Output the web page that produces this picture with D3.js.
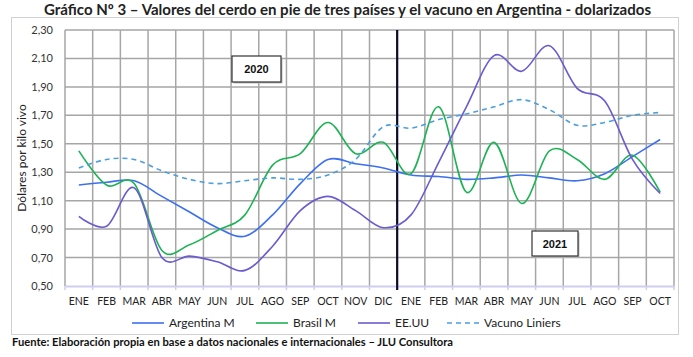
<!DOCTYPE html>
<html><head><meta charset="utf-8">
<script src="https://cdn.jsdelivr.net/npm/d3@7"></script>
<style>body{margin:0;background:#fff}svg{display:block}text{font-family:Lato,"Open Sans",sans-serif}</style>
</head><body><svg id="c" width="693" height="357"></svg>
<script>
const months = ["ENE","FEB","MAR","ABR","MAY","JUN","JUL","AGO","SEP","OCT","NOV","DIC","ENE","FEB","MAR","ABR","MAY","JUN","JUL","AGO","SEP","OCT"];
const argentina = [1.21,1.23,1.24,1.13,1.02,0.91,0.85,1.00,1.22,1.39,1.36,1.33,1.28,1.27,1.25,1.26,1.28,1.26,1.24,1.29,1.41,1.53];
const brasil = [1.45,1.21,1.22,0.75,0.79,0.89,1.00,1.35,1.43,1.65,1.43,1.51,1.29,1.76,1.16,1.51,1.08,1.45,1.39,1.25,1.42,1.16];
const eeuu = [0.99,0.92,1.19,0.70,0.71,0.67,0.61,0.78,1.03,1.13,1.03,0.91,1.00,1.37,1.76,2.12,2.01,2.19,1.89,1.80,1.39,1.15];
const vacuno = [1.33,1.39,1.39,1.31,1.25,1.22,1.24,1.26,1.25,1.28,1.39,1.62,1.61,1.67,1.71,1.76,1.81,1.74,1.63,1.65,1.70,1.72];
const yTicks = [0.5,0.7,0.9,1.1,1.3,1.5,1.7,1.9,2.1,2.3];
const seriesNames = ["Argentina M","Brasil M","EE.UU","Vacuno Liniers"];
const yearLabels = ["2020","2021"];
const title = "Gráfico Nº 3 – Valores del cerdo en pie de tres países y el vacuno en Argentina - dolarizados";
const yTitle = "Dólares por kilo vivo";
const source = "Fuente: Elaboración propia en base a datos nacionales e internacionales – JLU Consultora";

const svg = d3.select("#c");
const L = 65, R = 674, T = 30, B = 286;
const idx = d3.range(months.length);
const x = d3.scaleBand().domain(idx).range([L, R]).padding(0);
const y = d3.scaleLinear().domain([0.5, 2.3]).range([B, T]);
const fmt = v => d3.format(".2f")(v).replace(".", ",");

svg.append("rect").attr("x",0).attr("y",0).attr("width",693).attr("height",357).attr("fill","#fff");
// outer frame
svg.append("rect").attr("x",11.5).attr("y",17.5).attr("width",667).attr("height",317).attr("fill","none").attr("stroke","#d0d0d0").attr("stroke-width",1);

// title
svg.append("text").attr("x",44).attr("y",14.5).attr("font-size",14.4).attr("font-weight","bold").attr("fill","#222")
  .attr("textLength",607).attr("lengthAdjust","spacingAndGlyphs").text(title);

// grid
const g = svg.append("g");
g.selectAll(".hg").data(yTicks.slice(1)).join("line").attr("x1",L).attr("x2",R)
  .attr("y1",d=>y(d)).attr("y2",d=>y(d)).attr("stroke","#a6a6a6").attr("stroke-width",1.5);
const edges = idx.map(i=>x(i)).concat([R]);
g.selectAll(".vg").data(edges).join("line").attr("x1",d=>d).attr("x2",d=>d)
  .attr("y1",T).attr("y2",B).attr("stroke","#a6a6a6").attr("stroke-width",1.5);

// y axis labels
const ya = svg.append("g").attr("transform",`translate(${L},0)`)
  .call(d3.axisLeft(y).tickValues(yTicks).tickFormat(fmt).tickSize(0).tickPadding(12));
ya.select(".domain").remove();
ya.selectAll("text").attr("font-size",11).attr("fill","#333").style("font-family","Lato,'Open Sans',sans-serif");

// x axis
const xa = svg.append("g").attr("transform",`translate(0,${B})`)
  .call(d3.axisBottom(x).tickFormat(i=>months[i]).tickSize(0).tickPadding(12));
xa.select(".domain").attr("stroke","#cfcdf0").attr("stroke-width",2);
xa.selectAll("text").attr("font-size",10.5).attr("fill","#222").style("font-family","Lato,'Open Sans',sans-serif");
svg.append("g").selectAll("line").data(edges).join("line").attr("x1",d=>d).attr("x2",d=>d)
  .attr("y1",B).attr("y2",B+4).attr("stroke","#cfcdf0").attr("stroke-width",1.5);

// y title
svg.append("text").attr("transform",`translate(26,${(T+B)/2}) rotate(-90)`).attr("text-anchor","middle")
  .attr("font-size",12).attr("fill","#222").text(yTitle);

// year separator
svg.append("line").attr("x1",x(12)).attr("x2",x(12)).attr("y1",T).attr("y2",B+4).attr("stroke","#0d0b2a").attr("stroke-width",2.2);

// series
const colors = ["#3d6ff2","#1db354","#6a5bd0","#4c9fde"];
const data = [argentina, brasil, eeuu, vacuno];
const line = d3.line().x((d,i)=>x(i)+x.bandwidth()/2).y(d=>y(d)).curve(d3.curveCardinal.tension(0));
data.forEach((s,k)=>{
  svg.append("path").datum(s).attr("d",line).attr("fill","none").attr("stroke",colors[k])
    .attr("stroke-width",1.6).attr("stroke-dasharray",k===3?"5,4":null);
});

// year boxes
function yearBox(label, bx, by, bw, bh){
  svg.append("rect").attr("x",bx+1.5).attr("y",by+1.5).attr("width",bw).attr("height",bh).attr("fill","#bbb");
  svg.append("rect").attr("x",bx).attr("y",by).attr("width",bw).attr("height",bh).attr("fill","#fff").attr("stroke","#333").attr("stroke-width",1.2);
  svg.append("text").attr("x",bx+bw/2).attr("y",by+bh/2+4).attr("text-anchor","middle").attr("font-size",11).attr("font-weight","bold")
    .style("font-family","'Liberation Sans',Arial,sans-serif").attr("fill","#111").text(label);
}
yearBox(yearLabels[0], 232, 56, 49, 26);
yearBox(yearLabels[1], 532, 231, 46, 25);

// legend
const legX = [132, 256, 358, 447];
seriesNames.forEach((n,k)=>{
  svg.append("line").attr("x1",legX[k]).attr("x2",legX[k]+32).attr("y1",323).attr("y2",323)
    .attr("stroke",colors[k]).attr("stroke-width",1.6).attr("stroke-dasharray",k===3?"5,4":null);
  svg.append("text").attr("x",legX[k]+37).attr("y",327).attr("font-size",12).attr("fill","#222").text(n);
});

// source
svg.append("text").attr("x",12).attr("y",346).attr("font-size",10.5).attr("font-weight","bold").attr("fill","#111")
  .attr("textLength",441).attr("lengthAdjust","spacingAndGlyphs").text(source);
</script></body></html>
